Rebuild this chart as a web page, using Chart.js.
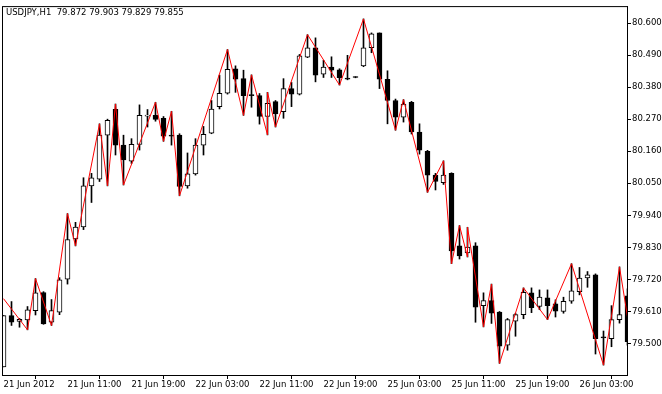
<!DOCTYPE html>
<html>
<head>
<meta charset="utf-8">
<script src="https://cdn.jsdelivr.net/npm/chart.js@4"></script>
<style>
  html, body { margin: 0; padding: 0; background: #fff; }
</style>
</head>
<body>
<canvas id="chart" width="662" height="394"></canvas>
<script>
// USDJPY H1, one bar per hour from 21 Jun 03:00 (bar 0) to 26 Jun 09:00 (bar 78)
const titleText = 'USDJPY,H1  79.872 79.903 79.829 79.855';

const openP = [
  79.420, 79.596, 79.576, 79.581, 79.613, 79.675, 79.573, 79.608, 79.721, 79.859,
  79.900, 80.041, 80.064, 80.215, 80.304, 80.181, 80.126, 80.183, 80.280, 80.283,
  80.273, 80.215, 80.215, 80.041, 80.082, 80.181, 80.222, 80.313, 80.359, 80.443,
  80.409, 80.353, 80.351, 80.279, 80.330, 80.296, 80.375, 80.356, 80.483, 80.515,
  80.424, 80.449, 80.439, 80.411, 80.414, 80.453, 80.515, 80.566, 80.407, 80.334,
  80.277, 80.328, 80.226, 80.160, 80.078, 80.052, 80.084, 79.835, 79.811, 79.835,
  79.630, 79.647, 79.608, 79.494, 79.577, 79.599, 79.674, 79.627, 79.657, 79.636,
  79.610, 79.645, 79.678, 79.725, 79.736, 79.523, 79.517, 79.582, 79.664
];
const highP = [
  79.596, 79.644, 79.586, 79.627, 79.723, 79.678, 79.651, 79.726, 79.946, 79.916,
  80.069, 80.084, 80.254, 80.270, 80.322, 80.215, 80.203, 80.319, 80.303, 80.328,
  80.279, 80.297, 80.220, 80.154, 80.203, 80.245, 80.334, 80.421, 80.509, 80.453,
  80.438, 80.422, 80.358, 80.362, 80.334, 80.409, 80.396, 80.492, 80.560, 80.549,
  80.472, 80.484, 80.443, 80.489, 80.416, 80.614, 80.566, 80.566, 80.436, 80.339,
  80.337, 80.331, 80.254, 80.163, 80.084, 80.127, 80.086, 79.905, 79.899, 79.846,
  79.674, 79.704, 79.610, 79.586, 79.604, 79.691, 79.691, 79.684, 79.684, 79.650,
  79.659, 79.774, 79.761, 79.747, 79.739, 79.543, 79.630, 79.763, 79.688
];
const lowP = [
  79.420, 79.562, 79.556, 79.547, 79.598, 79.566, 79.562, 79.599, 79.704, 79.835,
  79.891, 79.984, 80.056, 80.041, 80.147, 80.044, 80.118, 80.164, 80.243, 80.263,
  80.194, 80.181, 80.007, 80.033, 80.078, 80.147, 80.220, 80.305, 80.356, 80.362,
  80.283, 80.311, 80.253, 80.216, 80.243, 80.273, 80.313, 80.353, 80.481, 80.398,
  80.413, 80.413, 80.387, 80.405, 80.412, 80.450, 80.498, 80.375, 80.254, 80.232,
  80.260, 80.219, 80.150, 80.019, 80.027, 80.046, 79.774, 79.790, 79.797, 79.573,
  79.557, 79.569, 79.432, 79.477, 79.525, 79.585, 79.606, 79.616, 79.582, 79.591,
  79.604, 79.638, 79.667, 79.693, 79.464, 79.426, 79.489, 79.570, 79.494
];
const closeP = [
  79.596, 79.573, 79.583, 79.616, 79.674, 79.567, 79.613, 79.719, 79.857, 79.900,
  80.041, 80.069, 80.215, 80.266, 80.181, 80.130, 80.184, 80.283, 80.284, 80.269,
  80.212, 80.212, 80.039, 80.082, 80.181, 80.218, 80.305, 80.359, 80.441, 80.407,
  80.351, 80.351, 80.279, 80.324, 80.288, 80.375, 80.356, 80.487, 80.515, 80.421,
  80.449, 80.438, 80.412, 80.407, 80.413, 80.515, 80.563, 80.407, 80.334, 80.277,
  80.322, 80.226, 80.164, 80.078, 80.056, 80.078, 79.818, 79.801, 79.831, 79.625,
  79.647, 79.604, 79.491, 79.582, 79.599, 79.676, 79.623, 79.659, 79.630, 79.611,
  79.645, 79.681, 79.725, 79.736, 79.517, 79.519, 79.582, 79.599, 79.506
];

// zigzag vertices (bar index, price)
const zzIndex = [0, 3, 4, 6, 8, 9, 12, 13, 14, 15, 19, 20, 21, 22, 28, 30, 31, 33, 33, 34,
  38, 42, 45, 49, 50, 53, 55, 56, 57, 58, 58, 60, 61, 62, 65, 68, 71, 75, 77, 78];
const zzValue = [79.654, 79.547, 79.723, 79.562, 79.946, 79.835, 80.254, 80.041, 80.322, 80.044,
  80.328, 80.194, 80.297, 80.007, 80.509, 80.283, 80.422, 80.216, 80.362, 80.243,
  80.560, 80.387, 80.614, 80.232, 80.337, 80.019, 80.127, 79.774, 79.905, 79.797,
  79.899, 79.557, 79.704, 79.432, 79.691, 79.582, 79.774, 79.426, 79.763, 79.591];

const xTickIndex = [0, 8, 16, 24, 32, 40, 48, 56, 64, 72];
const xTickLabels = ['21 Jun 2012', '21 Jun 11:00', '21 Jun 19:00', '22 Jun 03:00', '22 Jun 11:00',
  '22 Jun 19:00', '25 Jun 03:00', '25 Jun 11:00', '25 Jun 19:00', '26 Jun 03:00'];
const yTicks = [79.500, 79.610, 79.720, 79.830, 79.940, 80.050, 80.160, 80.270, 80.380, 80.490, 80.600];

const wicks = openP.map((o, i) => ({ x: i, y: [lowP[i], highP[i]] }));
const bodies = openP.map((o, i) => ({ x: i, y: [o, closeP[i]] }));
const bodyFill = openP.map((o, i) => closeP[i] >= o ? '#ffffff' : '#000000');
const zigzag = zzIndex.map((k, i) => ({ x: k, y: zzValue[i] }));

Chart.defaults.font.family = '"DejaVu Sans", sans-serif';
Chart.defaults.font.size = 8.5;
Chart.defaults.color = '#000';

const frame = {
  id: 'frame',
  afterDraw(chart) {
    const { ctx, chartArea: a } = chart;
    ctx.save();
    ctx.strokeStyle = '#000';
    ctx.lineWidth = 1;
    ctx.strokeRect(a.left + 0.5, a.top + 0.5, a.right - a.left, a.bottom - a.top);
    ctx.fillStyle = '#000';
    ctx.font = '8.5px "DejaVu Sans"';
    ctx.textBaseline = 'alphabetic';
    ctx.fillText(titleText, a.left + 4, a.top + 9);
    ctx.restore();
  }
};

new Chart(document.getElementById('chart'), {
  type: 'bar',
  data: {
    datasets: [
      {
        type: 'line',
        data: zigzag,
        borderColor: '#ff0000',
        borderWidth: 1,
        pointRadius: 0,
        tension: 0,
        order: 0
      },
      {
        data: bodies,
        backgroundColor: bodyFill,
        borderColor: '#000',
        borderWidth: 1,
        borderSkipped: false,
        barThickness: 5,
        minBarLength: 1,
        grouped: false,
        order: 1
      },
      {
        data: wicks,
        backgroundColor: '#000',
        borderWidth: 0,
        barThickness: 1,
        grouped: false,
        order: 2
      }
    ]
  },
  options: {
    responsive: false,
    animation: false,
    events: [],
    layout: { padding: { left: 2, top: 3, right: 0, bottom: 0 } },
    plugins: { legend: { display: false }, tooltip: { enabled: false } },
    scales: {
      x: {
        type: 'linear',
        min: -0.1875,
        max: 77.9375,
        offset: false,
        afterBuildTicks: (s) => { s.ticks = xTickIndex.map(v => ({ value: v })); },
        afterFit: (s) => { s.height = 19; },
        ticks: {
          autoSkip: false,
          maxRotation: 0,
          align: 'start',
          padding: 1,
          callback: (v, i) => xTickLabels[i]
        },
        grid: { drawOnChartArea: false, tickLength: 4, color: '#000' },
        border: { display: true, color: '#000' }
      },
      y: {
        position: 'right',
        min: 79.392,
        max: 80.658,
        afterBuildTicks: (s) => { s.ticks = yTicks.map(v => ({ value: v })); },
        afterFit: (s) => { s.width = 35; },
        ticks: {
          padding: 1,
          callback: (v) => v.toFixed(3)
        },
        grid: { drawOnChartArea: false, tickLength: 4, color: '#000' },
        border: { display: true, color: '#000' }
      }
    }
  },
  plugins: [frame]
});
</script>
</body>
</html>
